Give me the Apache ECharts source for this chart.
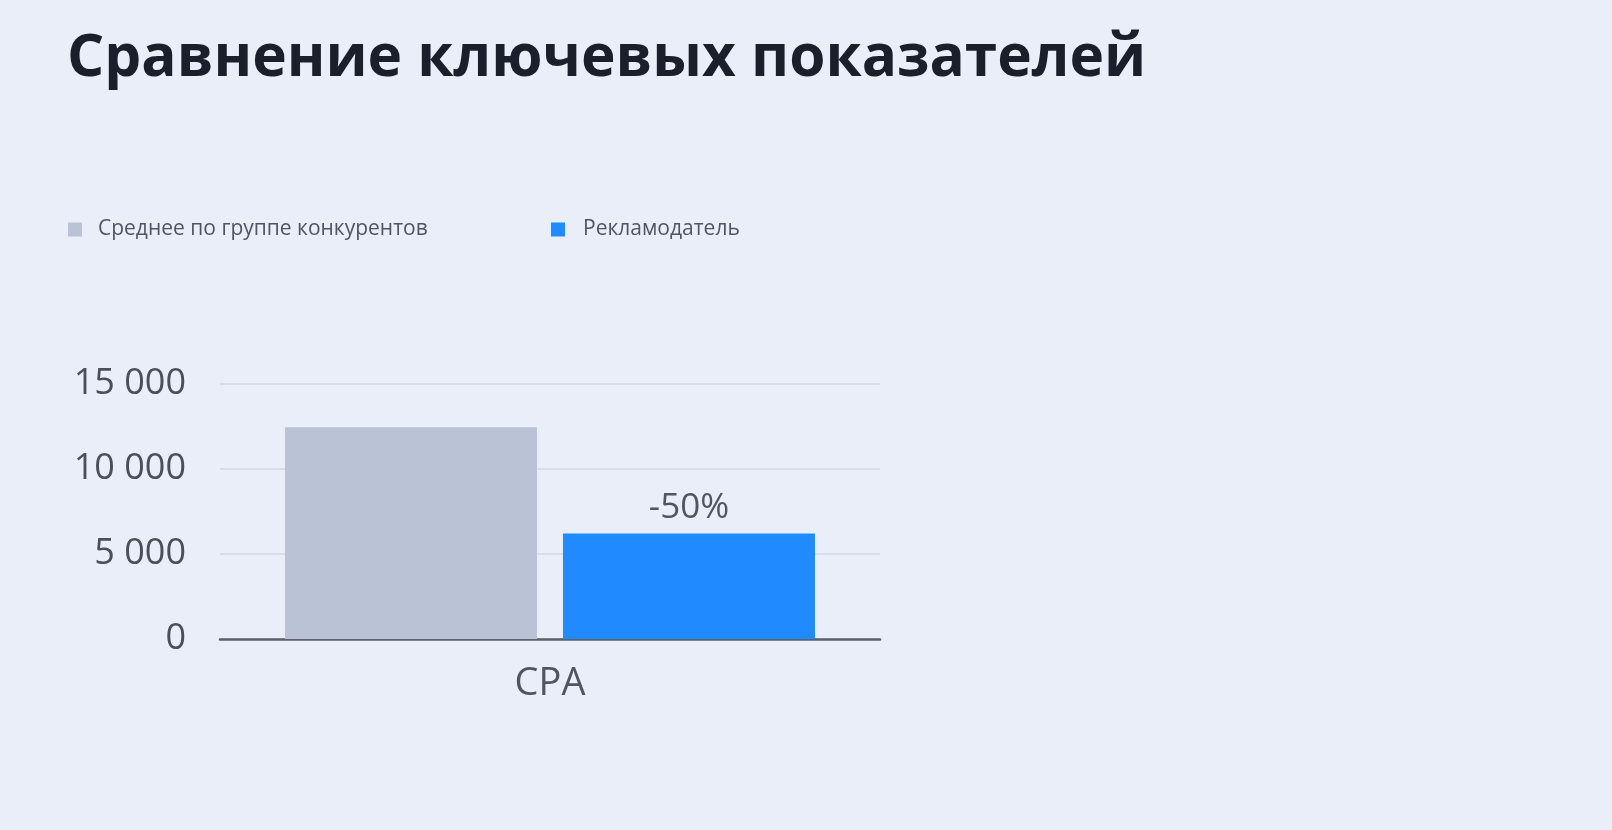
<!DOCTYPE html>
<html>
<head>
<meta charset="utf-8">
<script src="https://cdn.jsdelivr.net/npm/echarts@6/dist/echarts.min.js"></script>
<style>
html,body{margin:0;padding:0;background:#E9EEF8;}
#chart{width:1612px;height:830px;}
</style>
</head>
<body>
<div id="chart"></div>
<script>
const titleText = 'Сравнение ключевых показателей';
const categories = ['CPA'];
const seriesNames = ['Среднее по группе конкурентов', 'Рекламодатель'];
const competitorValues = [12450];
const advertiserValues = [6200];
const advertiserLabels = ['-50%'];
const yTicks = [0, 5000, 10000, 15000];

function fmt(v){
  return String(v).replace(/\B(?=(\d{3})+(?!\d))/g, '\u00a0');
}

const font = '"Open Sans", "Noto Sans", sans-serif';
const chart = echarts.init(document.getElementById('chart'));
chart.setOption({
  backgroundColor: '#E9EEF8',
  animation: false,
  textStyle: { fontFamily: font },
  title: {
    text: titleText,
    left: 67, top: 30, padding: 0,
    textStyle: { fontFamily: font, fontSize: 58.5, fontWeight: 'bold', color: '#1B1E2B' }
  },
  legend: [
    {
      data: [seriesNames[0]], left: 68, top: 219, padding: 0,
      icon: 'rect', itemWidth: 14, itemHeight: 14,
      textStyle: { fontFamily: font, fontSize: 21, color: '#50555F', padding: [0,0,0,11] }
    },
    {
      data: [seriesNames[1]], left: 551, top: 219, padding: 0,
      icon: 'rect', itemWidth: 14, itemHeight: 14,
      textStyle: { fontFamily: font, fontSize: 21, color: '#50555F', padding: [0,0,0,13] }
    }
  ],
  grid: { left: 220, right: 732, top: 384, bottom: 191, containLabel: false },
  xAxis: {
    type: 'category',
    data: categories,
    axisLine: { show: true, lineStyle: { color: '#5B606C', width: 2.5 } },
    axisTick: { show: false },
    axisLabel: { fontFamily: font, fontSize: 38, color: '#50555F', margin: 26 }
  },
  yAxis: {
    type: 'value',
    min: yTicks[0], max: yTicks[yTicks.length-1], interval: yTicks[1]-yTicks[0],
    axisLine: { show: false },
    axisTick: { show: false },
    splitLine: { lineStyle: { color: '#D8DDE7', width: 2 } },
    axisLabel: { fontFamily: font, fontSize: 36, color: '#4A4F5B', margin: 34, formatter: fmt }
  },
  series: [
    {
      name: seriesNames[0], type: 'bar', data: competitorValues,
      barWidth: 252, barGap: '10.3%',
      itemStyle: { color: '#BAC3D5' }
    },
    {
      name: seriesNames[1], type: 'bar', data: advertiserValues,
      barWidth: 252,
      itemStyle: { color: '#1F8BFF' },
      label: {
        show: true, position: 'top', distance: 8,
        fontFamily: font, fontSize: 35, color: '#50555F',
        formatter: p => advertiserLabels[p.dataIndex]
      }
    }
  ]
});
</script>
</body>
</html>
